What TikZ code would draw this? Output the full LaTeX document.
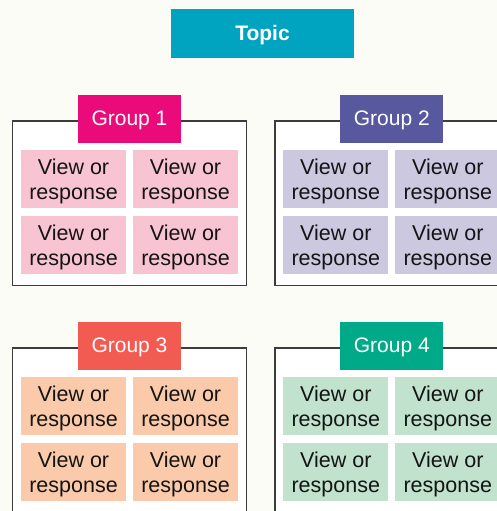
\documentclass[tikz,border=0pt]{standalone}
\usepackage{fontspec}
\setmainfont{Liberation Sans}
\definecolor{bg}{RGB}{252,252,246}
\definecolor{topicblue}{RGB}{0,163,192}
\definecolor{gOne}{RGB}{234,10,122}
\definecolor{gOneLight}{RGB}{248,196,209}
\definecolor{gTwo}{RGB}{87,88,158}
\definecolor{gTwoLight}{RGB}{203,200,224}
\definecolor{gThree}{RGB}{241,91,81}
\definecolor{gThreeLight}{RGB}{251,202,170}
\definecolor{gFour}{RGB}{0,170,136}
\definecolor{gFourLight}{RGB}{193,226,204}
\definecolor{framegray}{RGB}{60,60,60}
\definecolor{cellink}{RGB}{20,20,20}

\begin{document}
\begin{tikzpicture}[x=1pt,y=-1pt,
  every node/.style={inner sep=0pt, outer sep=0pt},
  topicbox/.style={fill=topicblue, minimum width=183pt, minimum height=49pt,
    text=white, text height=15pt, text depth=0pt,
    font=\fontsize{21}{25}\selectfont\bfseries},
  groupframe/.style={draw=framegray, line width=1.3pt, fill=white,
    minimum width=233.6pt, minimum height=164.7pt},
  grouplabel/.style={minimum width=103pt, minimum height=48pt, text=white,
    text height=15pt, text depth=2.5pt, font=\fontsize{21}{25}\selectfont},
  viewcell/.style={minimum width=105pt, minimum height=58pt, align=center,
    text=cellink, text depth=0pt, font=\fontsize{21.5}{25.5}\selectfont},
]
\useasboundingbox (0,0) rectangle (497,511);
\clip (0,0) rectangle (497,511);
\fill[bg] (0,0) rectangle (497,511);

% title
\node[topicbox] (topic) at (262.5,33.5) {Topic};

% four groups, each a framed panel with a header tab and a 2x2 grid of cells
\foreach \g/\gx/\gy/\dark/\light in {1/0/0/gOne/gOneLight,
                                     2/262.3/0/gTwo/gTwoLight,
                                     3/0/227/gThree/gThreeLight,
                                     4/262.3/227/gFour/gFourLight} {
  \node[groupframe] (frame\g) at (129.5+\gx,203.35+\gy) {};
  \node[grouplabel, fill=\dark] (label\g) at (129.5+\gx,119+\gy) {Group \g};
  \foreach \r/\ry in {1/179, 2/245} {
    \foreach \c/\cx in {1/73.5, 2/185.5} {
      \node[viewcell, fill=\light] (cell\g\r\c) at (\cx+\gx,\ry+\gy) {View or\\response};
    }
  }
}
\end{tikzpicture}
\end{document}
